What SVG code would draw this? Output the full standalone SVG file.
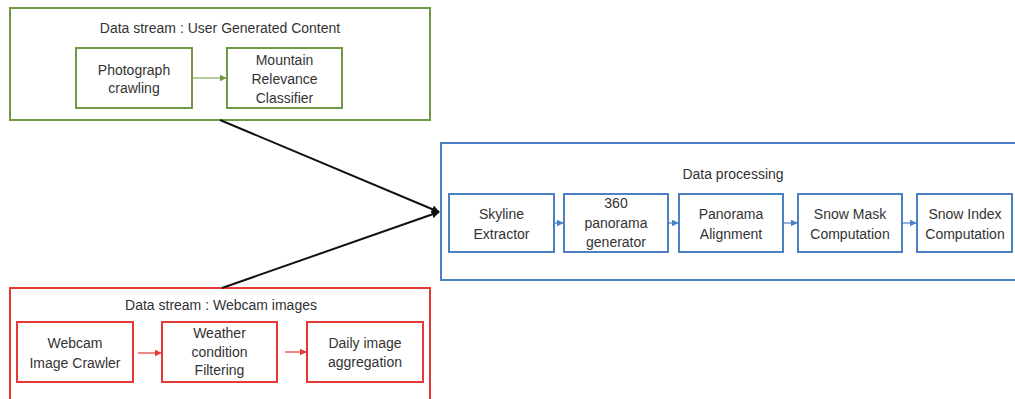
<svg xmlns="http://www.w3.org/2000/svg" width="1015" height="399" viewBox="0 0 1015 399">
<style>
text{font-family:"Liberation Sans",Arial,sans-serif;font-size:14px;fill:#333;text-anchor:middle}
.g{fill:#fff;stroke:#6f9a43;stroke-width:2}
.r{fill:#fff;stroke:#e53a35;stroke-width:2}
.b{fill:#fff;stroke:#4a80c4;stroke-width:2}
.ga{stroke:#6f9a43;stroke-width:1.2;fill:none}
.ra{stroke:#e53a35;stroke-width:1.2;fill:none}
.ba{stroke:#4a80c4;stroke-width:1.2;fill:none}
.k{stroke:#111;stroke-width:2;fill:none}
</style>
<defs>
<marker id="mg" viewBox="0 0 10 10" refX="9" refY="5" markerWidth="7" markerHeight="7" markerUnits="userSpaceOnUse" orient="auto"><path d="M0,0L10,5L0,10z" fill="#6f9a43"/></marker>
<marker id="mr" viewBox="0 0 10 10" refX="9" refY="5" markerWidth="7" markerHeight="7" markerUnits="userSpaceOnUse" orient="auto"><path d="M0,0L10,5L0,10z" fill="#e53a35"/></marker>
<marker id="mb" viewBox="0 0 10 10" refX="9" refY="5" markerWidth="7" markerHeight="7" markerUnits="userSpaceOnUse" orient="auto"><path d="M0,0L10,5L0,10z" fill="#4a80c4"/></marker>
<marker id="mk" viewBox="0 0 10 10" refX="9" refY="5" markerWidth="8" markerHeight="8" markerUnits="userSpaceOnUse" orient="auto"><path d="M0,0L10,5L0,10z" fill="#111"/></marker>
</defs>
<g id="ugc">
<rect class="g" x="10" y="8" width="420" height="112"/>
<text x="220" y="33">Data stream : User Generated Content</text>
</g>
<g id="photo">
<rect class="g" x="76" y="48" width="116" height="60"/>
<text x="134" y="75">Photograph</text>
<text x="134" y="93">crawling</text>
</g>
<g id="mountain">
<rect class="g" x="227" y="48" width="115" height="60"/>
<text x="284.5" y="65">Mountain</text>
<text x="284.5" y="84">Relevance</text>
<text x="284.5" y="103">Classifier</text>
</g>
<g id="webcamstream">
<rect class="r" x="10" y="288" width="420" height="112"/>
<text x="221" y="310">Data stream : Webcam images</text>
</g>
<g id="crawler">
<rect class="r" x="17" y="322" width="116" height="60"/>
<text x="75" y="348">Webcam</text>
<text x="75" y="368">Image Crawler</text>
</g>
<g id="weather">
<rect class="r" x="162" y="322" width="115" height="60"/>
<text x="219.5" y="338">Weather</text>
<text x="219.5" y="357">condition</text>
<text x="219.5" y="375">Filtering</text>
</g>
<g id="daily">
<rect class="r" x="307" y="322" width="116" height="60"/>
<text x="365" y="348">Daily image</text>
<text x="365" y="367">aggregation</text>
</g>
<g id="processing">
<rect class="b" x="441" y="143" width="580" height="137"/>
<text x="733" y="179">Data processing</text>
</g>
<g id="skyline">
<rect class="b" x="449" y="194" width="105" height="58"/>
<text x="501.5" y="219">Skyline</text>
<text x="501.5" y="239">Extractor</text>
</g>
<g id="panogen">
<rect class="b" x="564" y="194" width="104" height="58"/>
<text x="616" y="208">360</text>
<text x="616" y="228">panorama</text>
<text x="616" y="247">generator</text>
</g>
<g id="align">
<rect class="b" x="679" y="194" width="104" height="58"/>
<text x="731" y="219">Panorama</text>
<text x="731" y="239">Alignment</text>
</g>
<g id="snowmask">
<rect class="b" x="798" y="194" width="104" height="58"/>
<text x="850" y="219">Snow Mask</text>
<text x="850" y="239">Computation</text>
</g>
<g id="snowindex">
<rect class="b" x="917" y="194" width="95" height="58"/>
<text x="965" y="219">Snow Index</text>
<text x="965" y="239">Computation</text>
</g>
<g id="connectors">
<line class="ga" x1="192" y1="78" x2="226" y2="78" marker-end="url(#mg)"/>
<line class="ra" x1="138" y1="353" x2="161" y2="353" marker-end="url(#mr)"/>
<line class="ra" x1="285" y1="352" x2="306" y2="352" marker-end="url(#mr)"/>
<line class="ba" x1="554" y1="223" x2="563" y2="223" marker-end="url(#mb)"/>
<line class="ba" x1="668" y1="223" x2="678" y2="223" marker-end="url(#mb)"/>
<line class="ba" x1="783" y1="223" x2="797" y2="223" marker-end="url(#mb)"/>
<line class="ba" x1="902" y1="223" x2="916" y2="223" marker-end="url(#mb)"/>
<line class="k" x1="220" y1="120" x2="439" y2="212" marker-end="url(#mk)"/>
<line class="k" x1="222" y1="288" x2="439" y2="212" marker-end="url(#mk)"/>
</g>
</svg>
